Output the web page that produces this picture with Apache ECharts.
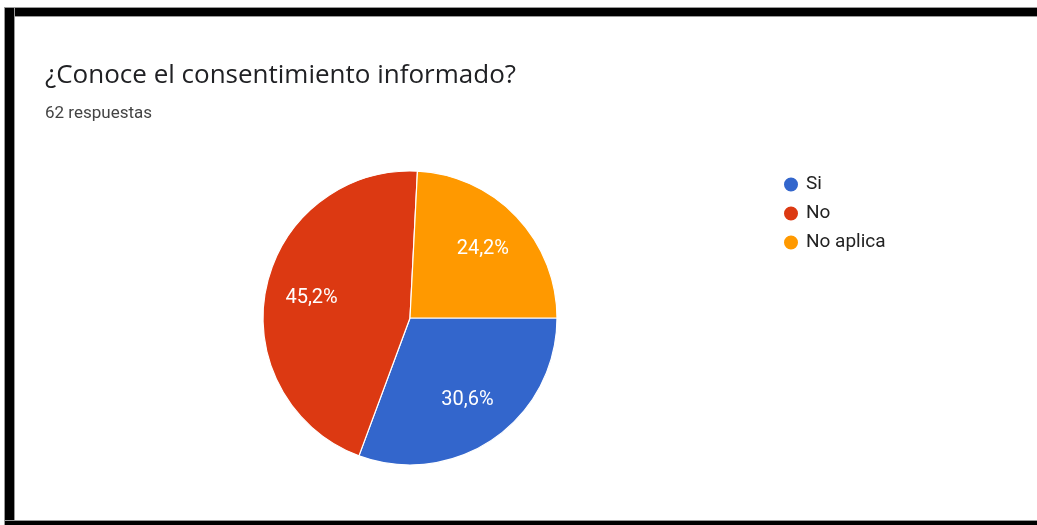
<!DOCTYPE html>
<html>
<head>
<meta charset="utf-8">
<script src="https://cdn.jsdelivr.net/npm/echarts@6/dist/echarts.min.js"></script>
<style>
  html, body { margin: 0; padding: 0; background: #fff; }
  #chart { width: 1037px; height: 525px; }
</style>
</head>
<body>
<div id="chart"></div>
<script>
// Survey answers: "¿Conoce el consentimiento informado?" (62 respuestas)
const titleText = '¿Conoce el consentimiento informado?';
const subtitleText = '62 respuestas';
const categories = ['Si', 'No', 'No aplica'];
const counts = [19, 28, 15];
const colors = ['#3366cc', '#dc3912', '#ff9900'];

const total = counts.reduce((a, b) => a + b, 0);
const pieData = categories.map((name, i) => ({
  name,
  value: counts[i],
  itemStyle: { color: colors[i] }
}));

const fmt = p => (Math.round(p.value / total * 1000) / 10).toFixed(1).replace('.', ',') + '%';

const chart = echarts.init(document.getElementById('chart'), null, { renderer: 'canvas' });
chart.setOption({
  animation: false,
  backgroundColor: '#fff',
  title: [
    {
      text: titleText,
      left: 40, top: 58,
      textStyle: { fontFamily: 'Open Sans', fontSize: 26, fontWeight: 'normal', color: '#202124' }
    },
    {
      text: subtitleText,
      left: 40, top: 100,
      textStyle: { fontFamily: 'Roboto', fontSize: 17, fontWeight: 'normal', color: '#444' }
    }
  ],
  legend: {
    orient: 'vertical',
    left: 777, top: 170,
    icon: 'circle',
    itemWidth: 16, itemHeight: 16,
    itemGap: 10,
    data: categories,
    textStyle: { fontFamily: 'Roboto', fontSize: 19, color: '#222', padding: [0, 0, 0, 2] }
  },
  series: [
    {
      // filled slices
      type: 'pie',
      center: [410, 318],
      radius: [0, 147],
      startAngle: 0,
      clockwise: true,
      silent: true,
      label: { show: false },
      labelLine: { show: false },
      itemStyle: { borderColor: '#fff', borderWidth: 1.2 },
      data: pieData
    },
    {
      // percentage labels, placed part-way out along each slice
      type: 'pie',
      center: [410, 318],
      radius: [48, 147],
      startAngle: 0,
      clockwise: true,
      silent: true,
      itemStyle: { color: 'rgba(0,0,0,0)' },
      label: {
        show: true,
        position: 'inside',
        formatter: fmt,
        color: '#fff',
        fontFamily: 'Roboto',
        fontSize: 20,
        padding: [0, 0, 8, 0]
      },
      labelLine: { show: false },
      data: categories.map((name, i) => ({ name, value: counts[i] }))
    }
  ],
  graphic: [
    // frame around the card
    { type: 'rect', shape: { x: 4, y: 7, width: 1033, height: 10 }, style: { fill: '#999' }, silent: true },
    { type: 'rect', shape: { x: 5, y: 8, width: 1032, height: 8 }, style: { fill: '#000' }, silent: true },
    { type: 'rect', shape: { x: 4, y: 7, width: 11, height: 518 }, style: { fill: '#999' }, silent: true },
    { type: 'rect', shape: { x: 5, y: 8, width: 9, height: 517 }, style: { fill: '#000' }, silent: true },
    { type: 'rect', shape: { x: 4, y: 520, width: 1033, height: 5 }, style: { fill: '#999' }, silent: true },
    { type: 'rect', shape: { x: 5, y: 521, width: 1032, height: 4 }, style: { fill: '#000' }, silent: true }
  ]
});
</script>
</body>
</html>
